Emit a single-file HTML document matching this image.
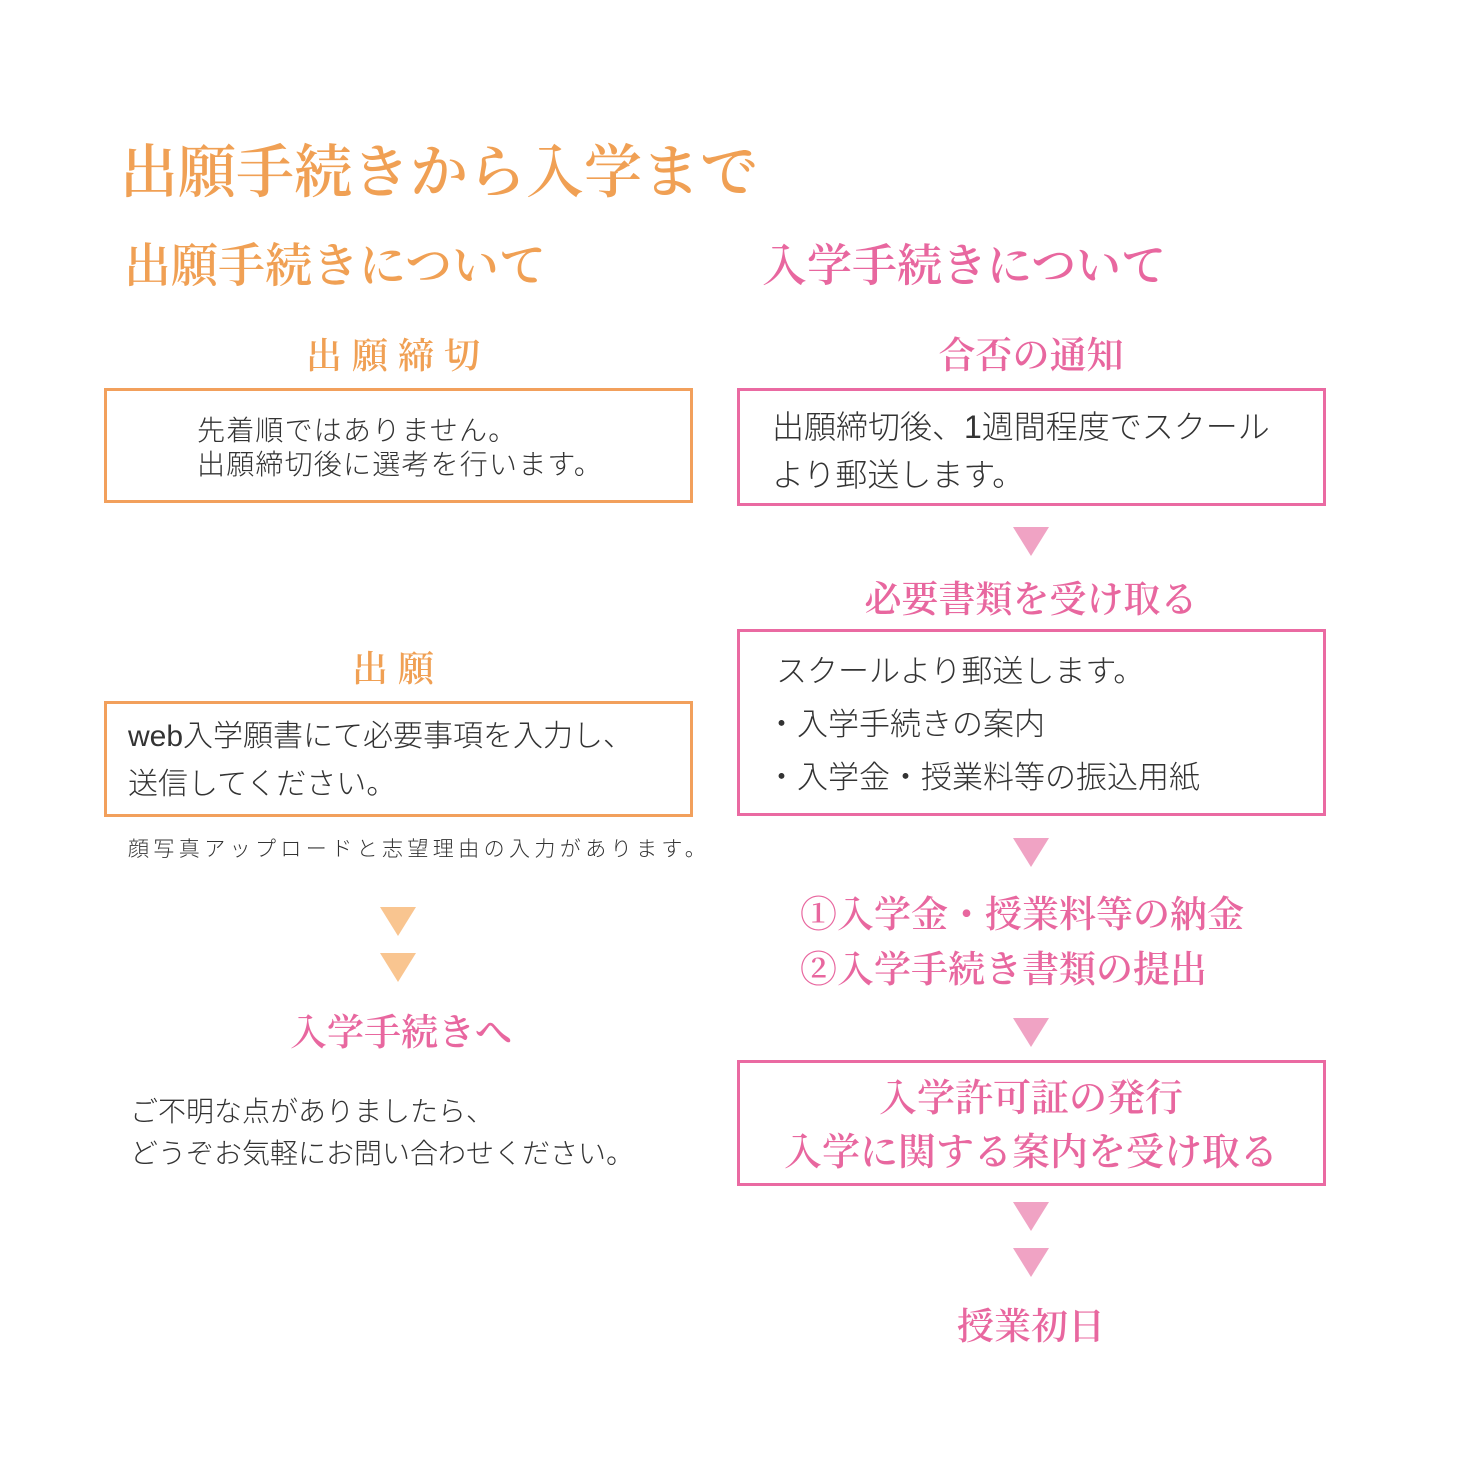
<!DOCTYPE html>
<html><head><meta charset="utf-8"><style>
body{margin:0;width:1477px;height:1481px;background:#fff;position:relative;overflow:hidden}
.a{position:absolute;white-space:nowrap;line-height:1}
.s{font-family:"Liberation Serif","Noto Serif CJK JP","Noto Serif CJK SC",serif;font-weight:600}
.g{font-family:"Liberation Sans","Noto Sans CJK JP",sans-serif;font-weight:300;color:#333}
.o{color:#f0a054}.p{color:#e8679f}
.box{position:absolute;box-sizing:border-box;border:3px solid}
.bo{border-color:#f2a05c}.bp{border-color:#ea6aa2}
.tri{position:absolute;width:0;height:0;border-left:18px solid transparent;border-right:18px solid transparent;border-top:29px solid #f0a3c4}
.to{border-top-color:#f9c590}
.c{text-align:center}
</style></head><body>
<div class="a s o" style="left:120px;top:144px;font-size:58px">出願手続きから入学まで</div>
<div class="a s o" style="left:124px;top:244px;font-size:47px">出願手続きについて</div>
<div class="a s p" style="left:762px;top:244px;font-size:45px">入学手続きについて</div>

<div class="a s o c" style="left:104px;width:588px;top:338px;font-size:36px;letter-spacing:10px">出願締切</div>
<div class="box bo" style="left:104px;top:388px;width:589px;height:115px"></div>
<div class="a g" style="left:197px;top:414px;font-size:28px;letter-spacing:1.2px;line-height:34px">先着順ではありません。<br>出願締切後に選考を行います。</div>

<div class="a s o c" style="left:104px;width:588px;top:651px;font-size:36px;letter-spacing:10px">出願</div>
<div class="box bo" style="left:104px;top:701px;width:589px;height:116px"></div>
<div class="a g" style="left:128px;top:713px;font-size:30px;line-height:48px">web入学願書にて必要事項を入力し、<br>送信してください。</div>
<div class="a g" style="left:128px;top:839px;font-size:21px;letter-spacing:4.4px">顔写真アップロードと志望理由の入力があります。</div>
<div class="tri to" style="left:380px;top:907px"></div>
<div class="tri to" style="left:380px;top:953px"></div>
<div class="a s p" style="left:290px;top:1015px;font-size:37px">入学手続きへ</div>
<div class="a g" style="left:130px;top:1091px;font-size:28px;line-height:42px">ご不明な点がありましたら、<br>どうぞお気軽にお問い合わせください。</div>

<div class="a s p c" style="left:737px;width:588px;top:338px;font-size:37px">合否の通知</div>
<div class="box bp" style="left:737px;top:388px;width:589px;height:118px"></div>
<div class="a g" style="left:772px;top:403px;font-size:32px;line-height:48px">出願締切後、1週間程度でスクール<br>より郵送します。</div>
<div class="tri" style="left:1013px;top:527px"></div>
<div class="a s p c" style="left:737px;width:588px;top:582px;font-size:37px">必要書類を受け取る</div>
<div class="box bp" style="left:737px;top:629px;width:589px;height:187px"></div>
<div class="a g" style="left:776px;top:645px;font-size:31px;line-height:53px">スクールより郵送します。</div>
<div class="a g" style="left:766px;top:698px;font-size:31px;line-height:53px">・入学手続きの案内<br>・入学金・授業料等の振込用紙</div>
<div class="tri" style="left:1013px;top:838px"></div>
<div class="a s p" style="left:800px;top:888px;font-size:37px;line-height:55px">①入学金・授業料等の納金<br>②入学手続き書類の提出</div>
<div class="tri" style="left:1013px;top:1018px"></div>
<div class="box bp" style="left:737px;top:1060px;width:589px;height:126px"></div>
<div class="a s p c" style="left:737px;width:588px;top:1072px;font-size:38px;line-height:54px">入学許可証の発行<br>入学に関する案内を受け取る</div>
<div class="tri" style="left:1013px;top:1202px"></div>
<div class="tri" style="left:1013px;top:1248px"></div>
<div class="a s p c" style="left:737px;width:588px;top:1309px;font-size:37px">授業初日</div>
</body></html>
